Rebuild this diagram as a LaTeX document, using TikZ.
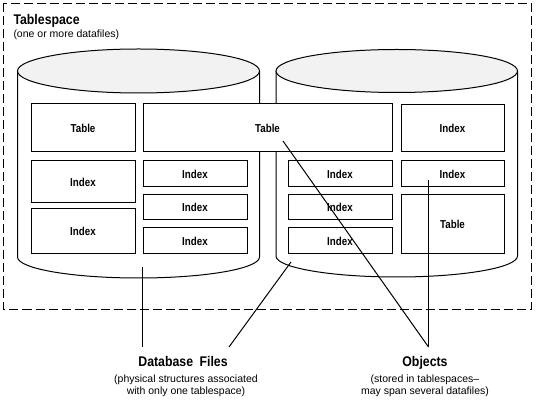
\documentclass[tikz,border=0pt]{standalone}
\usepackage{fontspec}
\setmainfont{Liberation Sans}
\newfontfamily\boxfont[FakeStretch=0.85]{Liberation Sans Bold}
\newfontfamily\titlefont[FakeStretch=0.88]{Liberation Sans Bold}
\definecolor{ellgray}{RGB}{242,242,242}
\tikzset{
  every path/.style={line width=1pt},
  dbox/.style={draw, fill=white, line width=1pt, inner sep=0pt,
    font=\boxfont\fontsize{11.5}{12}\selectfont},
  ttl/.style={inner sep=0pt, anchor=base, font=\titlefont\fontsize{14}{16}\selectfont},
  sub/.style={inner sep=0pt, anchor=base, font=\fontsize{10.5}{12}\selectfont},
  conn/.style={draw=black, line width=1pt},
  frame/.style={draw, line width=1pt, dash pattern=on 9pt off 4pt}
}
\begin{document}
\begin{tikzpicture}[x=1pt,y=-1pt]
\useasboundingbox (0,0) rectangle (536,403);
% tablespace frame
\draw[frame] (3.5,3.5) rectangle (531,309.5);
\node[ttl, anchor=base west] (ts) at (13,25) {Tablespace};
\node[sub, anchor=base west] (tssub) at (13,38) {(one or more datafiles)};
% left cylinder
\draw (17.5,71) -- (17.5,257) arc[start angle=180, end angle=360, x radius=121pt, y radius=21pt] -- (259.5,71);
\draw[fill=ellgray] (138.5,71) ellipse [x radius=121pt, y radius=22pt];
% right cylinder
\draw (276,71) -- (276,256) arc[start angle=180, end angle=360, x radius=120.75pt, y radius=21pt] -- (517.5,71);
\draw[fill=ellgray] (396.75,71) ellipse [x radius=120.75pt, y radius=21.5pt];
% boxes, left datafile
\node[dbox, minimum width=104pt, minimum height=48pt] (t1) at (83,128) {Table};
\node[dbox, minimum width=104pt, minimum height=42pt] (i1) at (83,182) {Index};
\node[dbox, minimum width=104pt, minimum height=45pt] (i2) at (83,231.5) {Index};
\node[dbox, minimum width=249pt, minimum height=48pt] (bigT) at (267.5,128) {Table};
\node[dbox, minimum width=104pt, minimum height=26pt] (i3) at (195,174) {Index};
\node[dbox, minimum width=104pt, minimum height=25pt] (i4) at (195,207.5) {Index};
\node[dbox, minimum width=104pt, minimum height=26pt] (i5) at (195,241) {Index};
% boxes, right datafile
\node[dbox, minimum width=104pt, minimum height=26pt] (i6) at (340,174) {Index};
\node[dbox, minimum width=104pt, minimum height=25pt] (i7) at (340,207.5) {Index};
\node[dbox, minimum width=104pt, minimum height=26pt] (i8) at (340,241) {Index};
\node[dbox, minimum width=103pt, minimum height=47pt] (i9) at (452.5,128.5) {Index};
\node[dbox, minimum width=103pt, minimum height=26pt] (i10) at (452.5,174) {Index};
\node[dbox, minimum width=103pt, minimum height=59pt] (t3) at (452.5,224.5) {Table};
% labels
\node[ttl] (dbf) at (183,367) {Database\hspace{3pt} Files};
\node[sub] (dbf1) at (186,383) {(physical structures associated};
\node[sub] (dbf2) at (186,395) {with only one tablespace)};
\node[ttl] (obj) at (425,367) {Objects};
\node[sub] (obj1) at (425,383) {(stored in tablespaces--};
\node[sub] (obj2) at (425,395) {may span several datafiles)};
% connector end points
\coordinate (cA) at (142,267);
\coordinate (cB) at (291,262);
\coordinate (cC) at (283,141);
\coordinate (cD) at (428.5,180);
\coordinate (dA) at (142,347);
\coordinate (dB) at (229,347);
\coordinate (oE) at (428.5,347);
\draw[conn] (cA) -- (dA);
\draw[conn] (cB) -- (dB);
\draw[conn] (cC) -- (oE);
\draw[conn] (cD) -- (oE);
\end{tikzpicture}
\end{document}
